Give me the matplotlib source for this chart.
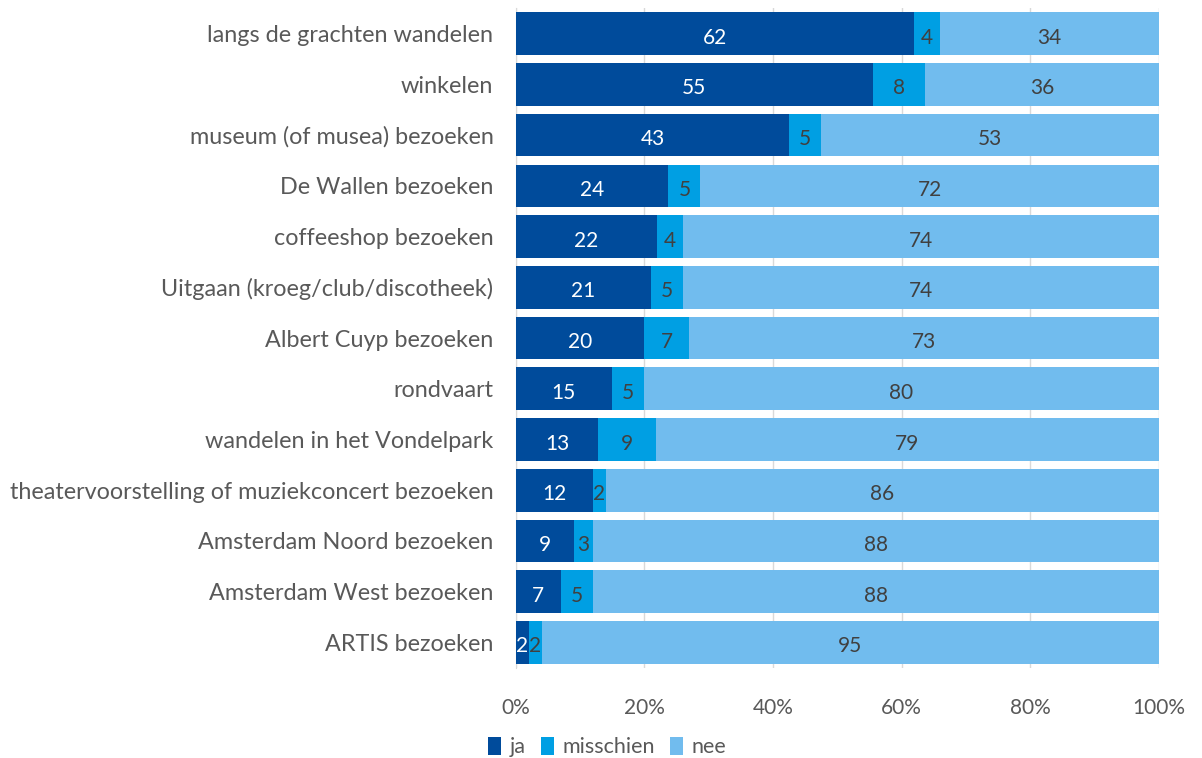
import matplotlib.pyplot as plt
import numpy as np

plt.rcParams['font.family'] = ['Lato', 'DejaVu Sans']

# activiteiten (boven naar beneden)
activiteiten = [
    "langs de grachten wandelen",
    "winkelen",
    "museum (of musea) bezoeken",
    "De Wallen bezoeken",
    "coffeeshop bezoeken",
    "Uitgaan (kroeg/club/discotheek)",
    "Albert Cuyp bezoeken",
    "rondvaart",
    "wandelen in het Vondelpark",
    "theatervoorstelling of muziekconcert bezoeken",
    "Amsterdam Noord bezoeken",
    "Amsterdam West bezoeken",
    "ARTIS bezoeken",
]
ja = [62, 55, 43, 24, 22, 21, 20, 15, 13, 12, 9, 7, 2]
misschien = [4, 8, 5, 5, 4, 5, 7, 5, 9, 2, 3, 5, 2]
nee = [34, 36, 53, 72, 74, 74, 73, 80, 79, 86, 88, 88, 95]

series = [("ja", ja, "#004B9B", "white"),
          ("misschien", misschien, "#009FE3", "#404040"),
          ("nee", nee, "#71BCEE", "#404040")]

totaal = np.array(ja) + np.array(misschien) + np.array(nee)

fig = plt.figure(figsize=(12.02, 7.58), dpi=100)
ax = fig.add_axes([0.429, 0.119, 0.535, 0.870])

y = np.arange(len(activiteiten))
left = np.zeros(len(activiteiten))
for naam, vals, kleur, tekstkleur in series:
    w = np.array(vals) / totaal
    ax.barh(y, w, left=left, height=0.84, color=kleur, label=naam, zorder=3)
    for yi, li, wi, v in zip(y, left, w, vals):
        ax.text(li + wi / 2, yi + 0.08, str(v), ha='center', va='center',
                fontsize=15, color=tekstkleur, zorder=4)
    left = left + w

ax.set_xlim(0, 1)
ax.set_ylim(len(activiteiten) - 0.5, -0.5)
ax.set_yticks(y)
ax.set_yticklabels(activiteiten, fontsize=16.8, color='#595959')
ax.set_xticks(np.linspace(0, 1, 6))
ax.set_xticklabels([f"{int(t)}%" for t in np.linspace(0, 100, 6)],
                   fontsize=15, color='#595959')
ax.tick_params(axis='both', length=0)
ax.tick_params(axis='x', pad=22)
ax.tick_params(axis='y', pad=16)
ax.grid(axis='x', color='#D9D9D9', linewidth=1, zorder=0)
for s in ['top', 'right', 'bottom']:
    ax.spines[s].set_visible(False)
ax.spines['left'].set_color('#D9D9D9')

ax.legend(loc='upper center', bbox_to_anchor=(0.142, -0.085), ncol=3,
          frameon=False, fontsize=15.5, handlelength=0.6, handleheight=0.9,
          handletextpad=0.4, columnspacing=0.7, labelcolor='#595959',
          borderaxespad=0.2)

fig.savefig("out.png", dpi=100)
